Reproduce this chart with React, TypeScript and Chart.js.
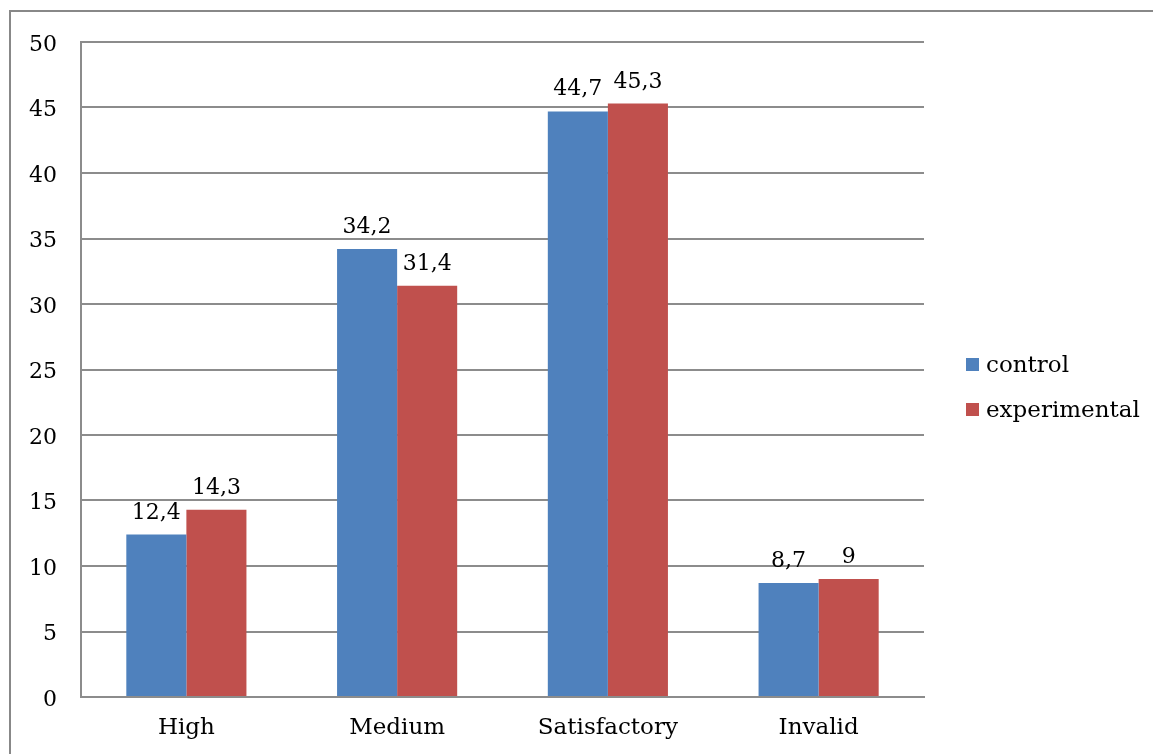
import React, { useEffect, useRef } from "react";
import { Chart, registerables } from "chart.js";

Chart.register(...registerables);

const categories = ["High", "Medium", "Satisfactory", "Invalid"];
const seriesNames = ["control", "experimental"];
const controlValues = [12.4, 34.2, 44.7, 8.7];
const experimentalValues = [14.3, 31.4, 45.3, 9];
const seriesColors = ["#4F81BD", "#C0504D"];
const yMin = 0;
const yMax = 50;
const yStep = 5;

const FONT = "'DejaVu Serif', 'Liberation Serif', serif";
const GRID = "#8c8c8c";

const fmt = (v: number) => String(v).replace(".", ",");

const framePlugin = {
  id: "frame",
  beforeDraw(chart: any) {
    const ctx = chart.ctx;
    ctx.save();
    ctx.fillStyle = "#ffffff";
    ctx.fillRect(0, 0, chart.width, chart.height);
    ctx.strokeStyle = "#888888";
    ctx.lineWidth = 2;
    ctx.strokeRect(10, 11, chart.width + 50, chart.height + 50);
    ctx.restore();
  },
};

const valueLabelPlugin = {
  id: "valueLabels",
  afterDatasetsDraw(chart: any) {
    const ctx = chart.ctx;
    ctx.save();
    ctx.font = `22px ${FONT}`;
    ctx.fillStyle = "#000000";
    ctx.textAlign = "center";
    ctx.textBaseline = "alphabetic";
    chart.data.datasets.forEach((ds: any, i: number) => {
      const meta = chart.getDatasetMeta(i);
      meta.data.forEach((el: any, j: number) => {
        ctx.fillText(fmt(ds.data[j]), el.x, el.y - 16);
      });
    });
    ctx.restore();
  },
};

const legendPlugin = {
  id: "customLegend",
  afterDraw(chart: any) {
    const ctx = chart.ctx;
    ctx.save();
    ctx.font = `23px ${FONT}`;
    ctx.textAlign = "left";
    ctx.textBaseline = "alphabetic";
    const baselines = [372, 417];
    chart.data.datasets.forEach((ds: any, i: number) => {
      const b = baselines[i];
      ctx.fillStyle = ds.backgroundColor;
      ctx.fillRect(966, b - 14, 13, 13);
      ctx.fillStyle = "#000000";
      ctx.fillText(ds.label, 986, b);
    });
    ctx.restore();
  },
};

export default function App() {
  const ref = useRef<HTMLCanvasElement | null>(null);

  useEffect(() => {
    if (!ref.current) return;
    const chart = new Chart(ref.current, {
      type: "bar",
      data: {
        labels: categories,
        datasets: [
          {
            label: seriesNames[0],
            data: controlValues,
            backgroundColor: seriesColors[0],
            borderWidth: 0,
            categoryPercentage: 0.57,
            barPercentage: 1,
          },
          {
            label: seriesNames[1],
            data: experimentalValues,
            backgroundColor: seriesColors[1],
            borderWidth: 0,
            categoryPercentage: 0.57,
            barPercentage: 1,
          },
        ],
      },
      options: {
        responsive: false,
        animation: false,
        layout: { padding: { left: 0, top: 42, right: 229, bottom: 0 } },
        plugins: {
          legend: { display: false },
          tooltip: { enabled: false },
        },
        scales: {
          x: {
            grid: { drawOnChartArea: false, drawTicks: false },
            border: { display: true, color: GRID, width: 2 },
            ticks: {
              color: "#000000",
              font: { family: FONT, size: 23 },
              padding: 17,
            },
            afterFit: (s: any) => {
              s.height = 57;
            },
          },
          y: {
            min: yMin,
            max: yMax,
            grid: { color: GRID, lineWidth: 2, drawTicks: false },
            border: { display: true, color: GRID, width: 2 },
            ticks: {
              stepSize: yStep,
              color: "#000000",
              font: { family: FONT, size: 22 },
              padding: 24,
              labelOffset: 3,
            },
            afterFit: (s: any) => {
              s.width = 81;
            },
          },
        },
      },
      plugins: [framePlugin, valueLabelPlugin, legendPlugin],
    });
    return () => chart.destroy();
  }, []);

  return (
    <div style={{ position: "fixed", left: 0, top: 0, width: 1153, height: 754, background: "#fff" }}>
      <canvas ref={ref} width={1153} height={754} style={{ display: "block" }} />
    </div>
  );
}
